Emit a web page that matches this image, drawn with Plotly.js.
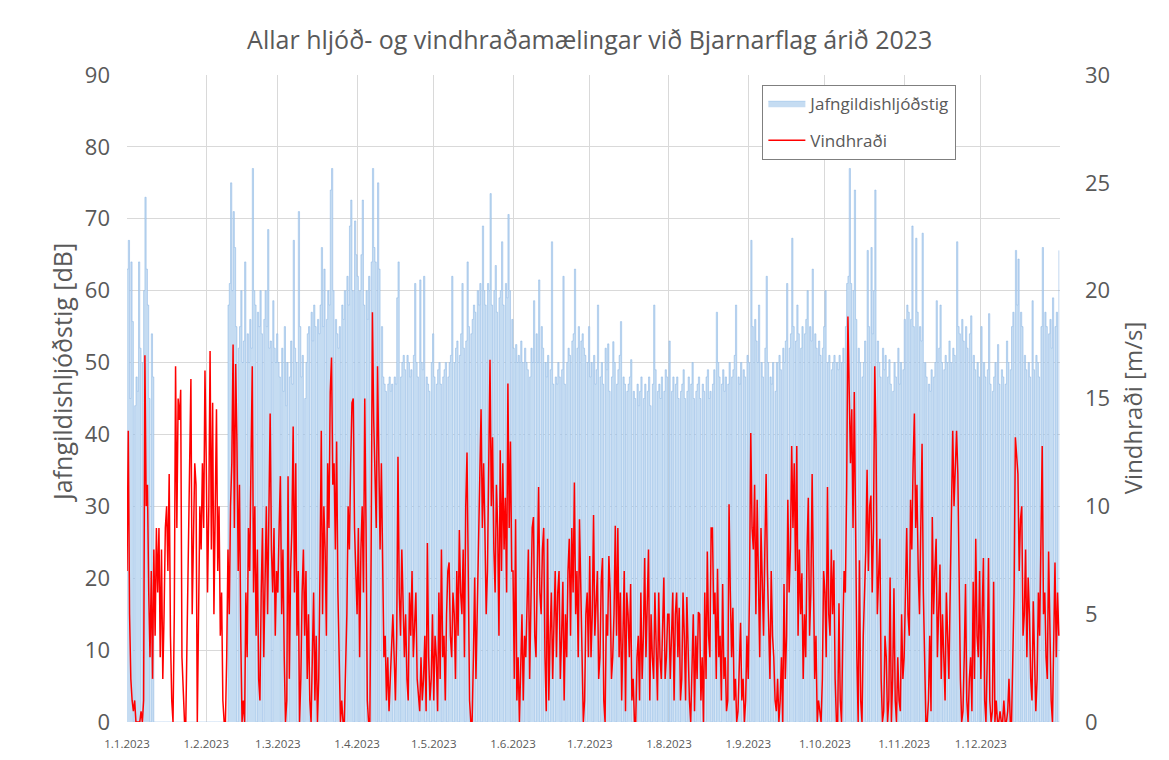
<!DOCTYPE html>
<html>
<head>
<meta charset="utf-8">
<script src="https://cdn.plot.ly/plotly-3.0.1.min.js"></script>
<style>html,body{margin:0;padding:0;background:#fff;}#chart{width:1169px;height:760px;}</style>
</head>
<body>
<div id="chart"></div>
<script>
// Two readings per day (00:00 and 12:00).
const monthTicks = ['2023-01-01','2023-02-01','2023-03-01','2023-04-01','2023-05-01','2023-06-01','2023-07-01','2023-08-01','2023-09-01','2023-10-01','2023-11-01','2023-12-01'];
const monthLabels = ['1.1.2023','1.2.2023','1.3.2023','1.4.2023','1.5.2023','1.6.2023','1.7.2023','1.8.2023','1.9.2023','1.10.2023','1.11.2023','1.12.2023'];

// Vindhraði [m/s]
const windJan = [7,13.5,5,2,1,0.5,1,0,0,0,0,0.5,0,1,17,10,11,6,3,7,2,8,4,9,6,9,3,8,2,5,9,10,7,11.5,4,1,0,5,16.5,9,15,14,15.4,3,1,0,0,4,6,12,15.9,5,9,12,11,0,5,10,8,12,9,16.3];
const windFeb = [12,6,10,17.2,8,14.8,5,11,14.5,7,10,4,6,1,0,0,3,8,5,10,12,17.5,9,16.6,13,7,11,4,0,1,0,6,3,9,7,12,16.5,6,10,4,8,2,1,6,9,3,7,10,5,11,14.3,8,6,9,4,7];
const windMar = [6,9,11.4,5,8,3,0,1,11.4,2,7,9,13.7,6,12,4,7,0,2,6,8,4,7,2,5,1,0,3,6,1,4,0,2,7,13.5,5,10,8,4,12,9,15.3,16.9,11,12,8,13,6,3,0,1,0,0,2,5,10,8,12,14.8,15,9,7];
const windApr = [5,9,3,8,10,6,15,9,1,0,0,8,19,14,12,9,16.5,11,8,12,6,3,4,1,3,0.5,2,4,5,3,1,4,12.3,6,4,8,6,3,5,2,1,6,4,7,3,5,6,2,1,0.5,3,1,2,4,0.5,8.3,3,1,2,5];
const windMay = [1,4,3,0.5,6,2,8,3,4,1,5,7,7.4,4,3,6,5,2,7,4,8.9,6,5,8,3,10,12.5,5,1,0,0,3,6.7,2,5,9,11,14.5,9,12,8.9,5,7,11,16.8,10,13.2,8,6,11,9,4,12.6,7,12,8,10.4,6,15.7,9,13,7];
const windJun = [7,2,9.4,1,3,0,2,5,1,4,3,6,8,2,5,9,9.5,4,3,7,10.9,6,5,8,9,3,0.5,8.5,1,4,6,2,5,7,3,6,7,2,4,6.5,1,5,3,7,8.5,4,9,6,11.1,5,7,3,9.4,6,2,0,1,5,6,3];
const windJul = [7.7,3,5,9.6,4,6,7,2,3,6.5,7.6,1,0,5,4,7.7,6,2,3,5,9.1,4,9,3,6,1,4,7,0.5,6,5,3,6.4,1,2,0,0,3,4,1,6,2,4,7.6,3,6,8,1,5,3,2,6,4,1,6,3,2,5,6.7,2,3,5];
const windAug = [5,2,4,6,1,5,6,3,5.3,1,2,6,4,1,5.8,3,1,0,3,5,0.5,4,2,5.1,5,1,3,0,6,2,7.9,4,3,9,9,5,6,2,7.1,3,4,1,6.4,2,3,0.5,1,10.1,6,3,5.3,1,2,0,0.5,3,4.6,1,2,0,1,4];
const windSep = [2,6,13.4,9,8,11,5,10.3,7,3,9,6,4,8,11.5,7,5,2,7,4,3,1,0.5,2,0,1,3,0,6.4,2,4,10.3,6,8,12.8,9,12,7,12.8,4,8,5,6.9,2,5,3,8,10.4,4,6,11.5,5,2,4,0,1,0.5,0,2,7];
const windOct = [6,3,10.9,5,4,8,5,7.5,2,0,0,5.5,1,0,4,7,6,10.8,18.8,14,12,14.5,9,15.3,7,3,0,7.5,1,0,4,6,8,11.7,7,10,10.5,6,9,16.5,13,5,7,8.5,2,0,0.5,4,3,0,1,6.7,0,2,6.2,1,0,3,1,0.5,5,2];
const windNov = [3,6,9,5,4,10.3,8,12,14.3,9,11,7,5,9,12.9,6,3,0,0,1,4,0.5,9.5,5,7,8.5,3,6,7.3,2,5,3,1,6,4,2,6,9,13.5,10,12,13.5,11.5,5,2,0,0.5,3,6.4,1,0,2,3,0.5,6.5,2,8.5,4,3,7];
const windDec = [2,5,7.6,1,0,3,7.6,1,0,0.5,6.5,0,1,0,0,0.5,0,0,1,0,0,0.5,2,0,0,3,6,13.2,12,11.5,7,9.4,10,4,5,8,3,6.7,5,2,1,5.6,3,0.5,2,6,4,9,12.8,5,6,3,2,7.9,5,1,0,4,7.4,3,6,4];

// Jafngildishljóðstig [dB] (0 = no measurement)
const noiseJan = [63,67,45,64,55.7,0,44,48,46,64,52,0,50,60,73,63,58,45,0,54,48,0,0,0,0,0,0,0,0,0,0,0,0,0,0,0,0,0,0,0,0,0,0,0,0,0,0,0,0,0,0,0,0,0,0,0,0,0,0,0,0,0];
const noiseFeb = [0,0,0,0,0,0,0,0,0,0,0,0,0,0,0,0,0,58,61,75,60,71,66,55,0,52,55,60,50,53,64,0,54,50,56,52,77,60,58,0,57,55,60,54,0,56,60,55,68.5,52,53,0,58.6,52,50,54];
const noiseMar = [50,48,0,52,46,55,44,50,0,48,53,47,67,52,50,0,71,55,48,51,0,45,50,54,55,0,57,53,58,55,0,56,54,58,66,55,63,0,56,60,58,74,77,60,0,56,54,52,55,0,58,56,60,0,62,58,69,72.6,60,0,69.7,65];
const noiseApr = [62,0,60,65,72.6,58,0,60,56,62,0,64,77,66,64,0,75,63,0,55,48,47,46,0,47,48,46,47,0,48,47,59,64,0,48,50,51,49,0,51,50,48,49,0,51,61,50,48,0,61.5,50,49,62,0,48,47,46,0,50,54];
const noiseMay = [48,0,47,49,50,47,0,48,49,50,0,48,50,51,62,0,50,52,53,0,51,54,61,52,0,53,64,55,0,54,56,58,57,0,60,58,61,0,69,60,58,0,61,60,73.5,58,0,60,63.5,57,0,59,60,66.8,58,0,61,59,70.6,60,0,56];
const noiseJun = [52,0,52.5,50,51,0,53,50,0,52,50,49,0,48,52,50,58.6,0,54,50,61.5,0,55,52,0,50,48,51,0,49,66.8,47,0,48,47,50,48,0,49,62,47,0,50,52,51,0,53,54,63,0,52,55,0,53,54,52,51,0,50,55];
const noiseJul = [48,50,0,51,47,49,58,0,48,50,47,0,52,49,52.6,46,0,48,52.9,50,0,47,49,51,55.7,0,48,47,0,46,47,48,50.4,0,46,45,0,47,44,46,48,0,45,47,0,46,48,44,0,47,58,49,0,46,47,45,48,0,46,49,48,0];
const noiseAug = [53,0,46,48,0,47,48,45,0,46,47,49,45,0,46,48,0,47,50,45,0,46,47,48,45,0,47,46,0,48,49,45,46,0,47,49,0,57,50,48,0,47,49,46,48,0,47,50,0,48,49,51,58,0,48,47,50,0,49,48,0,51];
const noiseSep = [50,0,67,55,0,56,53,50,58,0,50,48,0,52,62,50,0,48,47,50,0,46,50,0,51,49,0,52,50,53,61,0,52,54,67.3,55,0,53,58,54,0,52,55,0,54,56,60,0,55,53,63,0,54,52,0,53,51,0,52,55];
const noiseOct = [60,0,50,51,0,49,50,51,0,50,49,51,0,50,52,0,55,61,62,77,61,0,60,74,56,0,52,50,0,48,50,53,0,65.6,55,0,66,54,60,74,0,53,50,48,0,52,49,51,0,48,50.4,47,0,46,50,48,0,52,47,50,0,49];
const noiseNov = [56,0,58,57,0,56,69,55,0,67.3,57,0,55,53,68,0,50,48,0,47,46,49,0,48,50,58.6,0,52,58,50,0,49,51,50,0,53,50,0,52,51,0,66.8,55,54,0,56,53,0,55,52,0,54,56.5,0,51,49,0,50,48,0];
const noiseDec = [55,0,50,48,0,49,56.8,47,0,46,48,50,0,52.5,47,0,49,48,0,47,53,50,0,49,55,57,0,65.6,58,64.4,0,57,55,0,51,49,0,50,48,0,58.6,49,0,51,50,48,0,55,66,0,57,55,0,54,56,52,59,0,55,57,0,65.6];

const wind = [].concat(windJan, windFeb, windMar, windApr, windMay, windJun, windJul, windAug, windSep, windOct, windNov, windDec);
const noise = [].concat(noiseJan, noiseFeb, noiseMar, noiseApr, noiseMay, noiseJun, noiseJul, noiseAug, noiseSep, noiseOct, noiseNov, noiseDec);

const t0 = Date.UTC(2023, 0, 1);
const halfDay = 12 * 3600 * 1000;
const times = noise.map((_, i) => new Date(t0 + i * halfDay).toISOString());

const FONT = '"Open Sans", Lato, sans-serif';
const GREY = '#595959';

const traces = [
  {
    x: times, y: noise, type: 'scatter', mode: 'lines',
    name: 'Jafngildishljóðstig',
    line: {color: '#86B2E2', width: 0.5, shape: 'hv'},
    fill: 'tozeroy', fillcolor: '#C5DCF2',
    legendgroup: 'a', hoverinfo: 'skip'
  },
  {
    x: times, y: wind, type: 'scatter', mode: 'lines',
    name: 'Vindhraði', yaxis: 'y2',
    line: {color: '#FF0000', width: 1.5},
    legendgroup: 'b', hoverinfo: 'skip'
  }
];

const layout = {
  width: 1169, height: 760,
  paper_bgcolor: '#ffffff', plot_bgcolor: '#ffffff',
  margin: {l: 127, r: 109, t: 75, b: 38},
  font: {family: FONT, color: GREY},
  title: {
    text: 'Allar hljóð- og vindhraðamælingar við Bjarnarflag árið 2023',
    font: {family: FONT, size: 25, color: GREY},
    x: 0.496, xref: 'paper', xanchor: 'center',
    y: 0.947, yref: 'container', yanchor: 'middle'
  },
  xaxis: {
    type: 'date',
    range: ['2023-01-01', '2023-12-31 23:00'],
    tickvals: monthTicks, ticktext: monthLabels,
    tickfont: {family: FONT, size: 11.5, color: GREY},
    showgrid: true, gridcolor: '#D9D9D9', gridwidth: 1,
    showline: false, zeroline: false, ticks: '',
    ticklabelstandoff: 13
  },
  yaxis: {
    range: [0, 90], dtick: 10, tick0: 0,
    tickfont: {family: FONT, size: 22, color: GREY},
    showgrid: true, gridcolor: '#D9D9D9', gridwidth: 1,
    zeroline: false, showline: false, ticks: '',
    ticklabelstandoff: 16
  },
  yaxis2: {
    range: [0, 30], dtick: 5, tick0: 0,
    overlaying: 'y', side: 'right',
    tickfont: {family: FONT, size: 22, color: GREY},
    showgrid: false, zeroline: false, showline: false, ticks: '',
    ticklabelstandoff: 24
  },
  annotations: [
    {text: 'Jafngildishljóðstig [dB]', textangle: -90, showarrow: false,
     xref: 'paper', yref: 'paper', x: -0.0697, y: 0.541, xanchor: 'center', yanchor: 'middle',
     font: {family: FONT, size: 25, color: GREY}},
    {text: 'Vindhraði [m/s]', textangle: -90, showarrow: false,
     xref: 'paper', yref: 'paper', x: 1.0772, y: 0.485, xanchor: 'center', yanchor: 'middle',
     font: {family: FONT, size: 24, color: GREY}}
  ],
  showlegend: true,
  legend: {
    x: 0.681, y: 0.985, xanchor: 'left', yanchor: 'top',
    bgcolor: '#ffffff', bordercolor: '#7F7F7F', borderwidth: 1,
    font: {family: FONT, size: 17, color: GREY},
    itemwidth: 37,
    traceorder: 'grouped', tracegroupgap: 12
  }
};

Plotly.newPlot('chart', traces, layout, {staticPlot: true, displayModeBar: false});
</script>
</body>
</html>
